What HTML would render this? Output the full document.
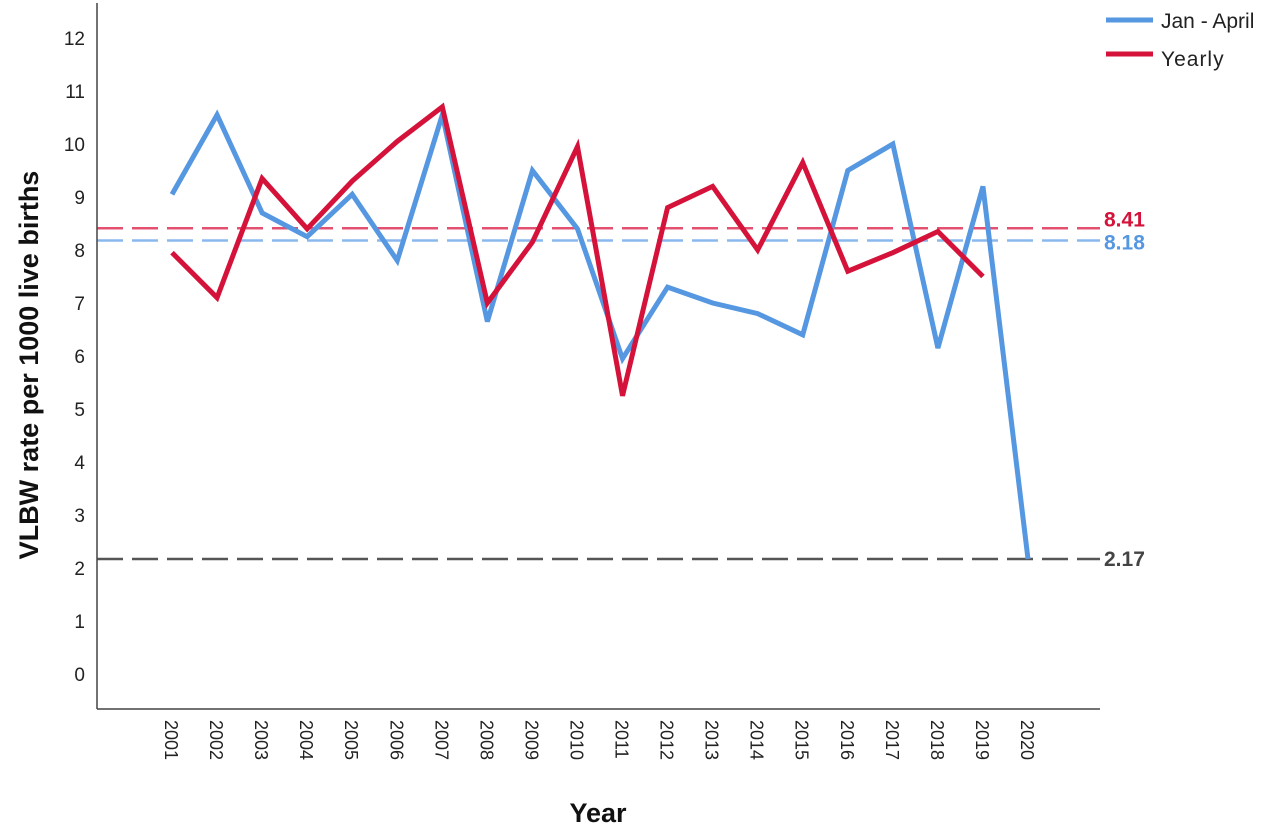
<!DOCTYPE html>
<html><head><meta charset="utf-8"><style>
body{margin:0;background:#fff;}
svg{display:block;font-family:"Liberation Sans",sans-serif;}
</style></head><body>
<svg id="chart" width="1280" height="831" viewBox="0 0 1280 831" xmlns="http://www.w3.org/2000/svg">
<g id="grid"></g>
<g id="lines"></g>
<line x1="97" y1="3" x2="97" y2="709" stroke="#444" stroke-width="1.5"/>
<line x1="97" y1="709" x2="1100" y2="709" stroke="#444" stroke-width="1.5"/>
<text transform="translate(38,365) rotate(-90)" text-anchor="middle" font-size="27" font-weight="bold" fill="#111">VLBW rate per 1000 live births</text>
<text x="598" y="822" text-anchor="middle" font-size="27" font-weight="bold" fill="#111">Year</text>
<g>
<line x1="1106" y1="20" x2="1153" y2="20" stroke="#5597e1" stroke-width="5"/>
<text x="1161" y="28" font-size="21" fill="#222">Jan - April</text>
<line x1="1106" y1="54" x2="1153" y2="54" stroke="#d4123a" stroke-width="5"/>
<text x="1161" y="66" font-size="21" fill="#222" letter-spacing="1">Yearly</text>
</g>
</svg>
<script>
const years=["2001","2002","2003","2004","2005","2006","2007","2008","2009","2010","2011","2012","2013","2014","2015","2016","2017","2018","2019","2020"];
const janApril=[9.05,10.55,8.7,8.25,9.05,7.8,10.55,6.65,9.5,8.4,5.95,7.3,7.0,6.8,6.4,9.5,10.0,6.15,9.2,2.17];
const yearly=[7.95,7.1,9.35,8.4,9.3,10.05,10.7,7.0,8.15,9.95,5.25,8.8,9.2,8.0,9.65,7.6,7.95,8.35,7.5];
const yTicks=[0,1,2,3,4,5,6,7,8,9,10,11,12];
const refValues=[8.41,8.18,2.17];
const refLabels=["8.41","8.18","2.17"];
const ns="http://www.w3.org/2000/svg";
const svg=document.getElementById('chart');
const gG=document.getElementById('grid'), gL=document.getElementById('lines');
function xS(i){return 172+i*(1028-172)/19;}
function yS(v){return 674-53*v;}
function mk(tag,attrs,parent){const e=document.createElementNS(ns,tag);for(const k in attrs)e.setAttribute(k,attrs[k]);parent.appendChild(e);return e;}
yTicks.forEach(t=>{
 const e=mk('text',{x:85,y:yS(t)+7,'text-anchor':'end','font-size':19,fill:'#222'},gG);
 
 
 e.textContent=t;
});
years.forEach((y,i)=>{
 const e=mk('text',{transform:`translate(${xS(i)-7},${720}) rotate(90)`,'font-size':18,fill:'#222'},gG);
 
 
 e.textContent=y;
});
const refColors=["#e35070","#8ab8ee","#555"];
const labelColors=["#d4123a","#5597e1","#444"];
refValues.forEach((v,i)=>{
 const l=mk('line',{x1:97,x2:1100,y1:yS(v),y2:yS(v),stroke:refColors[i],'stroke-width':2.5,'stroke-dasharray':'26 9'},gL);
 
 
 const t=mk('text',{x:1104,y:yS(v)+(i==0?-2:(i==1?9:7)),'font-size':21,'font-weight':'bold',fill:labelColors[i]},gL);
 
 
 t.textContent=refLabels[i];
});
function series(data,color,name){
 const p=mk('polyline',{points:data.map((v,i)=>xS(i)+','+yS(v)).join(' '),fill:'none',stroke:color,'stroke-width':5,'stroke-linejoin':'miter'},gL);
 
 
}
series(janApril,'#5597e1','series-jan-april');
series(yearly,'#d4123a','series-yearly');
</script>
</body></html>
